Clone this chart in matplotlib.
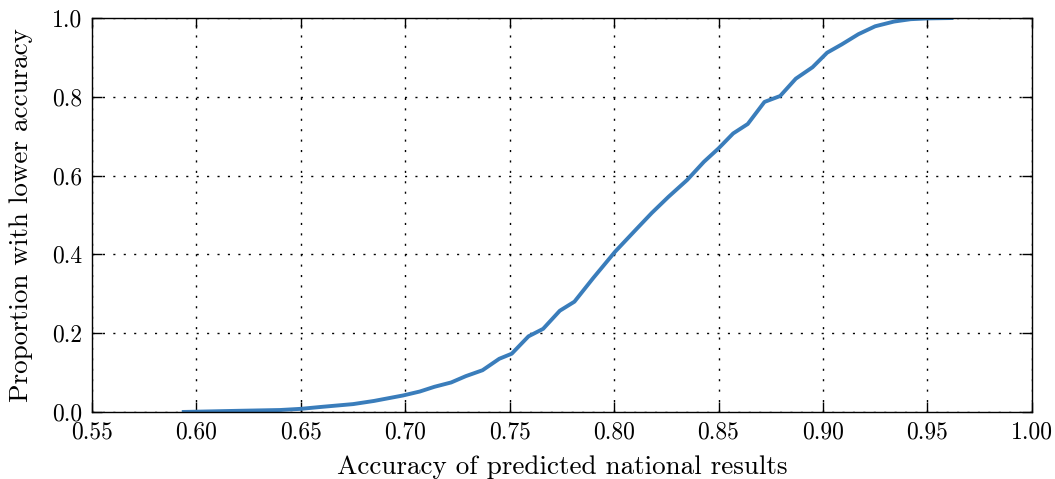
import matplotlib
matplotlib.use('Agg')
import matplotlib.pyplot as plt

# accuracy values (x) and cumulative proportion (y)
accuracy = [0.593, 0.620, 0.640, 0.650, 0.660, 0.675, 0.685, 0.692, 0.699, 0.707,
            0.714, 0.722, 0.729, 0.737, 0.745, 0.751, 0.759, 0.766, 0.774, 0.781,
            0.790, 0.8005, 0.811, 0.818, 0.826, 0.835, 0.843, 0.850, 0.857, 0.864,
            0.872, 0.8795, 0.887, 0.895, 0.902, 0.909, 0.917, 0.925, 0.934, 0.942,
            0.950, 0.9625]
proportion = [0.0, 0.003, 0.005, 0.008, 0.013, 0.020, 0.028, 0.035, 0.042, 0.052,
              0.064, 0.075, 0.091, 0.106, 0.135, 0.148, 0.192, 0.211, 0.257, 0.280,
              0.340, 0.407, 0.466, 0.505, 0.546, 0.589, 0.635, 0.669, 0.707, 0.731,
              0.787, 0.802, 0.846, 0.875, 0.912, 0.933, 0.959, 0.979, 0.991, 0.997,
              0.999, 1.0]

plt.rcParams['font.family'] = 'cmr10'
plt.rcParams['axes.formatter.use_mathtext'] = True
plt.rcParams['mathtext.fontset'] = 'cm'

fig = plt.figure(figsize=(10.55, 4.79), dpi=100)
ax = fig.add_axes([0.0872, 0.1399, 0.8908, 0.8225])

ax.plot(accuracy, proportion, color='#3a7dbb', linewidth=2.8, solid_capstyle='butt')

ax.set_xlim(0.55, 1.00)
ax.set_ylim(0.0, 1.0)
ax.set_xticks([0.55, 0.60, 0.65, 0.70, 0.75, 0.80, 0.85, 0.90, 0.95, 1.00])
ax.set_yticks([0.0, 0.2, 0.4, 0.6, 0.8, 1.0])
ax.set_xticklabels(['%.2f' % v for v in ax.get_xticks()])
ax.set_yticklabels(['%.1f' % v for v in ax.get_yticks()])

ax.grid(True, color='black', linestyle=(0, (1.5, 6)), linewidth=1.0)
ax.tick_params(direction='in', top=True, right=True, length=7, width=1.0,
               labelsize=17, pad=7)
for s in ax.spines.values():
    s.set_linewidth(1.0)

ax.set_xlabel('Accuracy of predicted national results', fontsize=19.5, labelpad=8)
ax.set_ylabel('Proportion with lower accuracy', fontsize=19.5, labelpad=14)

fig.savefig('out.png', dpi=100)
